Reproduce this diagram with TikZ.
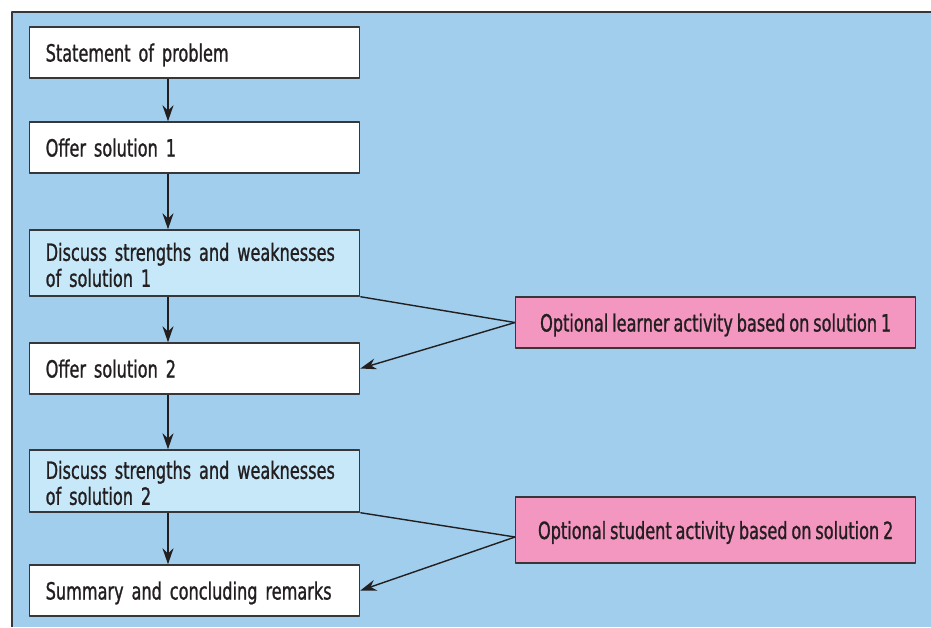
\documentclass[tikz,border=0pt]{standalone}
\usepackage{fontspec}
\setmainfont[FakeStretch=0.68, WordSpace=0.75, FakeBold=1]{DejaVu Sans}
\usetikzlibrary{arrows.meta}
\definecolor{panel}{RGB}{160,206,236}
\definecolor{discblue}{RGB}{198,232,249}
\definecolor{optpink}{RGB}{243,151,193}
\definecolor{ink}{RGB}{35,31,32}
\definecolor{rim}{RGB}{55,55,58}
\tikzset{
  basebox/.style={draw=rim, line width=0.8pt, fill=white, anchor=west,
    minimum width=6.6cm, minimum height=1.02cm, text width=5.96cm,
    inner xsep=0.32cm, align=left},
  stagebox/.style={basebox, text depth=0pt},
  discbox/.style={basebox, fill=discblue, execute at begin node={\rule{0pt}{12.5pt}}},
  optbox/.style={draw=rim, line width=0.8pt, fill=optpink, anchor=west,
    minimum width=8cm, minimum height=1.02cm, align=center, text depth=0pt}
}
\begin{document}
\begin{tikzpicture}[x=0.02cm, y=-0.02cm, >={Stealth[length=3.2mm,width=2.2mm]}, line join=round,
    font=\fontsize{13.5}{14.8}\selectfont, text=ink]
  \useasboundingbox (0,0) rectangle (931,627);
  % backdrop
  \fill[panel] (12,12) rectangle (931,627);
  \draw[rim, line width=1pt] (12,627) -- (12,12) -- (931,12);

  % main column
  \node[stagebox] (s1) at (29,52.5) {Statement of problem};
  \node[stagebox] (s2) at (29,147.5) {Offer solution 1};
  \node[discbox, minimum height=1.32cm] (s3) at (29,263) {Discuss strengths and weaknesses\\of solution 1};
  \node[stagebox] (s4) at (29,368.5) {Offer solution 2};
  \node[discbox, minimum height=1.24cm] (s5) at (29,481) {Discuss strengths and weaknesses\\of solution 2};
  \node[stagebox] (s6) at (29,590.5) {Summary and concluding remarks};

  % optional activities
  \node[optbox] (pA) at (515,322.5) {Optional learner activity based on solution 1};
  \node[optbox, minimum height=1.32cm] (pB) at (515,530) {Optional student activity based on solution 2};

  \coordinate (ax) at (168,0);
  \foreach \a/\b in {s1/s2, s2/s3, s3/s4, s4/s5, s5/s6}
    \draw[->, draw=ink, line width=0.8pt] (\a.south -| ax) -- (\b.north -| ax);

  \draw[ink, line width=0.8pt] (s3.south east) -- (pA.west);
  \draw[->, ink, line width=0.8pt] (pA.west) -- (s4.east);
  \coordinate (jB) at ([yshift=-0.14cm]pB.west);
  \draw[ink, line width=0.8pt] (s5.south east) -- (jB);
  \draw[->, ink, line width=0.8pt] (jB) -- (s6.east);
\end{tikzpicture}
\end{document}
